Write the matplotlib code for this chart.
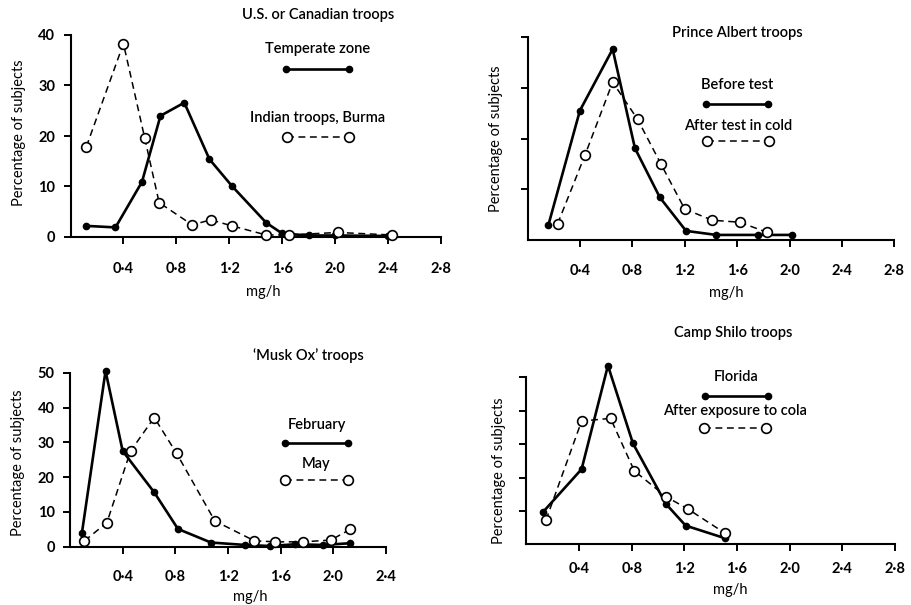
import matplotlib

matplotlib.use("Agg")
import matplotlib.pyplot as plt
from matplotlib.legend import Legend

plt.rcParams["font.family"] = ["Lato", "DejaVu Sans"]
plt.rcParams["font.weight"] = "semibold"

# U.S. or Canadian troops
temperate_x = [0.12, 0.34, 0.54, 0.68, 0.86, 1.05, 1.22, 1.48, 1.60, 1.80, 2.00, 2.40]
temperate_y = [2.2, 1.9, 10.9, 24.0, 26.6, 15.4, 10.1, 2.8, 0.7, 0.3, 0.3, 0.2]
burma_x = [0.12, 0.40, 0.56, 0.67, 0.92, 1.06, 1.22, 1.48, 1.65, 2.02, 2.43]
burma_y = [17.9, 38.3, 19.7, 6.8, 2.4, 3.4, 2.2, 0.4, 0.4, 0.9, 0.4]

# Prince Albert troops
before_x = [0.16, 0.40, 0.65, 0.82, 1.01, 1.21, 1.44, 1.76, 2.02]
before_y = [3.0, 25.5, 37.6, 18.1, 8.4, 1.8, 1.0, 1.0, 1.0]
after_x = [0.23, 0.44, 0.65, 0.84, 1.02, 1.20, 1.41, 1.62, 1.83]
after_y = [3.2, 16.8, 31.1, 23.8, 14.9, 6.1, 3.9, 3.5, 1.5]

# 'Musk Ox' troops
feb_x = [0.09, 0.27, 0.40, 0.64, 0.82, 1.07, 1.33, 1.52, 1.71, 1.92, 2.13]
feb_y = [3.8, 50.5, 27.5, 15.6, 5.1, 1.2, 0.5, 0.2, 0.7, 0.5, 1.0]
may_x = [0.11, 0.28, 0.46, 0.64, 0.81, 1.10, 1.40, 1.56, 1.77, 1.98, 2.13]
may_y = [1.7, 6.9, 27.5, 37.1, 26.8, 7.4, 1.7, 1.4, 1.4, 1.9, 5.0]

# Camp Shilo troops
florida_x = [0.13, 0.42, 0.62, 0.81, 1.06, 1.21, 1.51]
florida_y = [9.8, 22.5, 53.5, 30.2, 12.1, 5.6, 1.8]
cold_x = [0.15, 0.42, 0.64, 0.82, 1.06, 1.23, 1.51]
cold_y = [7.3, 36.9, 37.7, 22.0, 14.3, 10.5, 3.3]

x_ticks = [0.4, 0.8, 1.2, 1.6, 2.0, 2.4, 2.8]
x_labels = ["0·4", "0·8", "1·2", "1·6", "2·0", "2·4", "2·8"]

FS = 10.5


def solid(ax, x, y):
    (ln,) = ax.plot(x, y, color="black", lw=1.9, marker="o", ms=4.5,
                    mfc="black", mec="black", clip_on=False, zorder=3)
    return ln


def dashed(ax, x, y):
    (ln,) = ax.plot(x, y, color="black", lw=1.1, ls=(0, (4.5, 3)), marker="o",
                    ms=7, mfc="white", mec="black", mew=1.2, clip_on=False,
                    zorder=4)
    return ln


def key(ax, line, label, x, y, gap):
    # label sits above a sample of the line, like the printed figure
    leg = Legend(ax, [line], [""], title=label, loc="upper center",
                 bbox_to_anchor=(x, y), frameon=False, numpoints=2,
                 handlelength=4.9, handletextpad=0, borderpad=0,
                 borderaxespad=0, labelspacing=gap, fontsize=FS,
                 title_fontsize=FS)
    ax.add_artist(leg)


def style(ax, xmax, ymax, yticks, ylabels, xpad, title, tpos, xl, yl):
    ax.set_xlim(0, xmax)
    ax.set_ylim(0, ymax)
    for s in ("top", "right"):
        ax.spines[s].set_visible(False)
    ax.spines["left"].set_bounds(0, yticks[-1])
    for s in ("left", "bottom"):
        ax.spines[s].set_linewidth(1.5)
    n = x_ticks.index(xmax) + 1
    ax.set_xticks(x_ticks[:n], x_labels[:n])
    ax.set_yticks(yticks, ylabels)
    ax.tick_params(length=5, width=1.4, labelsize=FS)
    ax.tick_params(axis="x", pad=xpad)
    ax.tick_params(axis="y", pad=6)
    for t in ax.get_xticklabels() + ax.get_yticklabels():
        t.set_fontweight("bold")
    ax.text(tpos[0], tpos[1], title, transform=ax.transAxes, ha="center",
            va="center", fontsize=FS)
    ax.set_xlabel("mg/h", fontsize=FS, va="center")
    ax.xaxis.set_label_coords(*xl)
    ax.set_ylabel("Percentage of subjects", fontsize=FS, va="center")
    ax.yaxis.set_label_coords(*yl)


fig = plt.figure(figsize=(9.11, 6.05), dpi=100)

# top left
ax1 = fig.add_axes([70.5 / 911, 1 - 237 / 605, 370.5 / 911, 202 / 605])
l1 = solid(ax1, temperate_x, temperate_y)
l2 = dashed(ax1, burma_x, burma_y)
style(ax1, 2.8, 40, [0, 10, 20, 30, 40], ["0", "10", "20", "30", "40"], 13,
      "U.S. or Canadian troops", (0.668, 1.099), (0.52, -0.27), (-0.14, 0.515))
key(ax1, l1, "Temperate zone", 0.667, 0.965, 0.45)
key(ax1, l2, "Indian troops, Burma", 0.668, 0.625, 0.45)

# top right
ax2 = fig.add_axes([527.5 / 911, 1 - 240 / 605, 366.8 / 911, 203 / 605])
l3 = solid(ax2, before_x, before_y)
l4 = dashed(ax2, after_x, after_y)
style(ax2, 2.8, 40, [10, 20, 30, 40], [""] * 4, 12,
      "Prince Albert troops", (0.571, 1.02), (0.543, -0.26), (-0.085, 0.5))
ax2.spines["left"].set_bounds(0, 40)
key(ax2, l3, "Before test", 0.571, 0.80, 0.45)
key(ax2, l4, "After test in cold", 0.574, 0.595, 0.15)

# bottom left
ax3 = fig.add_axes([70 / 911, 1 - 546.7 / 605, 316 / 911, 174 / 605])
l5 = solid(ax3, feb_x, feb_y)
l6 = dashed(ax3, may_x, may_y)
style(ax3, 2.4, 50, [0, 10, 20, 30, 40, 50],
      ["0", "10", "20", "30", "40", "50"], 12,
      "\u2018Musk Ox\u2019 troops", (0.753, 1.096), (0.57, -0.29), (-0.165, 0.48))
key(ax3, l5, "February", 0.78, 0.741, 0.4)
key(ax3, l6, "May", 0.78, 0.516, 0.2)

# bottom right
ax4 = fig.add_axes([526.3 / 911, 1 - 544.3 / 605, 368.7 / 911, 183.7 / 605])
l7 = solid(ax4, florida_x, florida_y)
l8 = dashed(ax4, cold_x, cold_y)
style(ax4, 2.8, 55, [10, 20, 30, 40, 50], [""] * 5, 8,
      "Camp Shilo troops", (0.561, 1.15), (0.553, -0.25), (-0.075, 0.40))
ax4.spines["left"].set_bounds(0, 50)
key(ax4, l7, "Florida", 0.570, 0.948, 0.4)
key(ax4, l8, "After exposure to cola", 0.566, 0.763, 0.25)

fig.savefig("out.png", dpi=100)
